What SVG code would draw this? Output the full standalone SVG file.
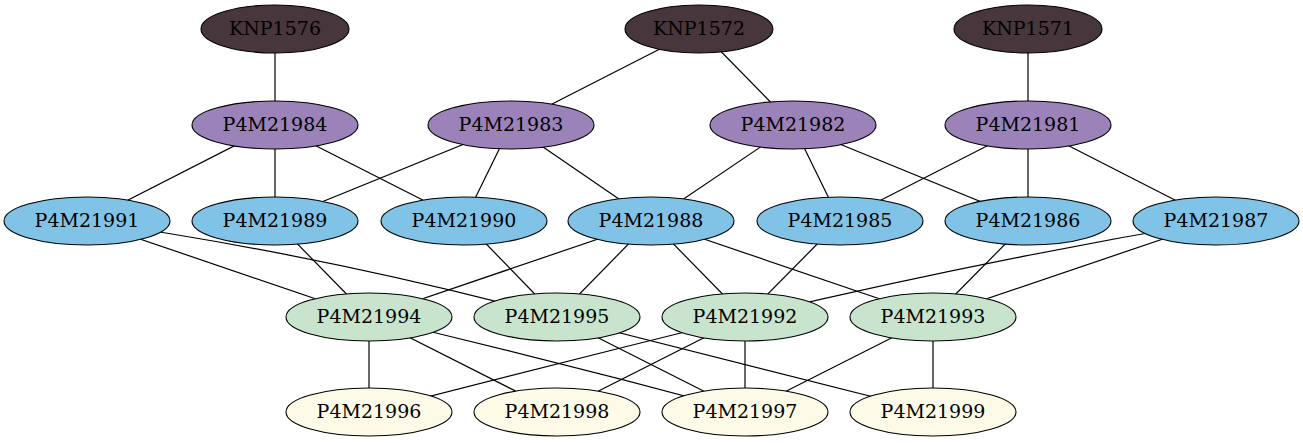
<svg xmlns="http://www.w3.org/2000/svg" width="1303" height="443" viewBox="0 0 1303 443">
<style>
.e{stroke:#000;stroke-width:1.2;fill:none}
.n ellipse{stroke:#000;stroke-width:1.1}
.n text{font-family:"DejaVu Serif",serif;font-size:19px;text-anchor:middle;fill:#000}
.k ellipse{fill:#47363b}
.p ellipse{fill:#9b83ba}
.b ellipse{fill:#81c3e7}
.g ellipse{fill:#c8e4cd}
.y ellipse{fill:#fdfbe8}
</style>
<rect width="1303" height="443" fill="#fff"/>
<g id="edges">
<line class="e" x1="275" y1="29" x2="275" y2="125"/>
<line class="e" x1="699" y1="29" x2="511" y2="125"/>
<line class="e" x1="699" y1="29" x2="793" y2="125"/>
<line class="e" x1="1028" y1="29" x2="1028" y2="125"/>
<line class="e" x1="275" y1="125" x2="87" y2="221"/>
<line class="e" x1="275" y1="125" x2="275" y2="221"/>
<line class="e" x1="275" y1="125" x2="464" y2="221"/>
<line class="e" x1="511" y1="125" x2="275" y2="221"/>
<line class="e" x1="511" y1="125" x2="464" y2="221"/>
<line class="e" x1="511" y1="125" x2="651" y2="221"/>
<line class="e" x1="793" y1="125" x2="651" y2="221"/>
<line class="e" x1="793" y1="125" x2="840" y2="221"/>
<line class="e" x1="793" y1="125" x2="1028" y2="221"/>
<line class="e" x1="1028" y1="125" x2="840" y2="221"/>
<line class="e" x1="1028" y1="125" x2="1028" y2="221"/>
<line class="e" x1="1028" y1="125" x2="1216" y2="221"/>
<line class="e" x1="87" y1="221" x2="369" y2="317"/>
<path class="e" d="M87,221 Q320,254 557,317"/>
<line class="e" x1="275" y1="221" x2="369" y2="317"/>
<line class="e" x1="464" y1="221" x2="557" y2="317"/>
<line class="e" x1="651" y1="221" x2="369" y2="317"/>
<line class="e" x1="651" y1="221" x2="557" y2="317"/>
<line class="e" x1="651" y1="221" x2="745" y2="317"/>
<line class="e" x1="651" y1="221" x2="933" y2="317"/>
<line class="e" x1="840" y1="221" x2="745" y2="317"/>
<line class="e" x1="1028" y1="221" x2="933" y2="317"/>
<path class="e" d="M1216,221 Q980,261 745,317"/>
<line class="e" x1="1216" y1="221" x2="933" y2="317"/>
<line class="e" x1="369" y1="317" x2="369" y2="412"/>
<line class="e" x1="369" y1="317" x2="557" y2="412"/>
<path class="e" d="M369,317 Q560,362 745,412"/>
<line class="e" x1="557" y1="317" x2="745" y2="412"/>
<line class="e" x1="557" y1="317" x2="933" y2="412"/>
<path class="e" d="M745,317 Q555,364 369,412"/>
<line class="e" x1="745" y1="317" x2="557" y2="412"/>
<line class="e" x1="745" y1="317" x2="745" y2="412"/>
<line class="e" x1="933" y1="317" x2="745" y2="412"/>
<line class="e" x1="933" y1="317" x2="933" y2="412"/>
</g>
<g id="KNP1576" class="n k"><ellipse cx="275" cy="29" rx="74" ry="24"/><text x="275" y="35">KNP1576</text></g>
<g id="KNP1572" class="n k"><ellipse cx="699" cy="29" rx="74" ry="24"/><text x="699" y="35">KNP1572</text></g>
<g id="KNP1571" class="n k"><ellipse cx="1028" cy="29" rx="74" ry="24"/><text x="1028" y="35">KNP1571</text></g>
<g id="P4M21984" class="n p"><ellipse cx="275" cy="125" rx="83" ry="24"/><text x="275" y="131">P4M21984</text></g>
<g id="P4M21983" class="n p"><ellipse cx="511" cy="125" rx="83" ry="24"/><text x="511" y="131">P4M21983</text></g>
<g id="P4M21982" class="n p"><ellipse cx="793" cy="125" rx="83" ry="24"/><text x="793" y="131">P4M21982</text></g>
<g id="P4M21981" class="n p"><ellipse cx="1028" cy="125" rx="83" ry="24"/><text x="1028" y="131">P4M21981</text></g>
<g id="P4M21991" class="n b"><ellipse cx="87" cy="221" rx="83" ry="24"/><text x="87" y="227">P4M21991</text></g>
<g id="P4M21989" class="n b"><ellipse cx="275" cy="221" rx="83" ry="24"/><text x="275" y="227">P4M21989</text></g>
<g id="P4M21990" class="n b"><ellipse cx="464" cy="221" rx="83" ry="24"/><text x="464" y="227">P4M21990</text></g>
<g id="P4M21988" class="n b"><ellipse cx="651" cy="221" rx="83" ry="24"/><text x="651" y="227">P4M21988</text></g>
<g id="P4M21985" class="n b"><ellipse cx="840" cy="221" rx="83" ry="24"/><text x="840" y="227">P4M21985</text></g>
<g id="P4M21986" class="n b"><ellipse cx="1028" cy="221" rx="83" ry="24"/><text x="1028" y="227">P4M21986</text></g>
<g id="P4M21987" class="n b"><ellipse cx="1216" cy="221" rx="83" ry="24"/><text x="1216" y="227">P4M21987</text></g>
<g id="P4M21994" class="n g"><ellipse cx="369" cy="317" rx="83" ry="24"/><text x="369" y="323">P4M21994</text></g>
<g id="P4M21995" class="n g"><ellipse cx="557" cy="317" rx="83" ry="24"/><text x="557" y="323">P4M21995</text></g>
<g id="P4M21992" class="n g"><ellipse cx="745" cy="317" rx="83" ry="24"/><text x="745" y="323">P4M21992</text></g>
<g id="P4M21993" class="n g"><ellipse cx="933" cy="317" rx="83" ry="24"/><text x="933" y="323">P4M21993</text></g>
<g id="P4M21996" class="n y"><ellipse cx="369" cy="412" rx="83" ry="24"/><text x="369" y="418">P4M21996</text></g>
<g id="P4M21998" class="n y"><ellipse cx="557" cy="412" rx="83" ry="24"/><text x="557" y="418">P4M21998</text></g>
<g id="P4M21997" class="n y"><ellipse cx="745" cy="412" rx="83" ry="24"/><text x="745" y="418">P4M21997</text></g>
<g id="P4M21999" class="n y"><ellipse cx="933" cy="412" rx="83" ry="24"/><text x="933" y="418">P4M21999</text></g>
</svg>
